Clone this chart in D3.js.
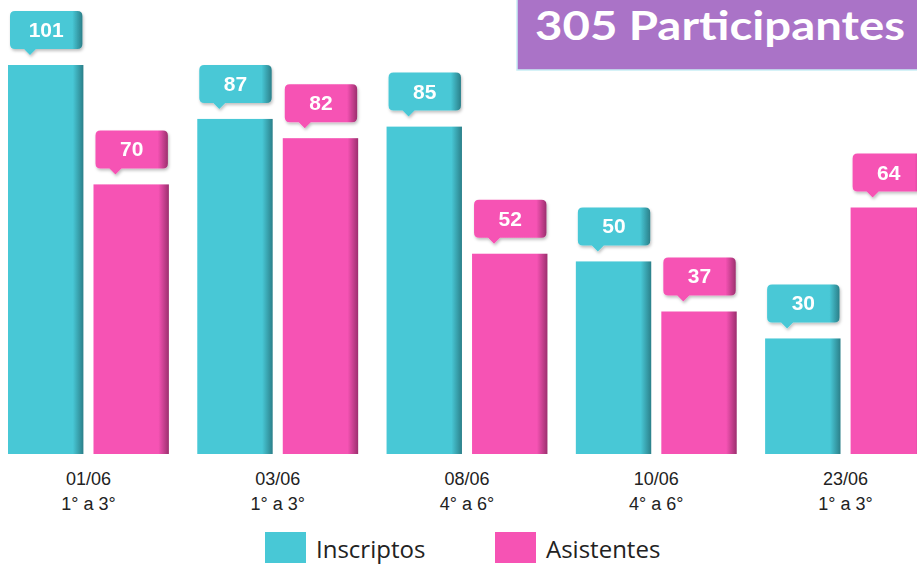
<!DOCTYPE html>
<html>
<head>
  <meta charset='utf-8'>
  <title>Participantes</title>
  <style>
    body { margin: 0; background: #fff; }
    svg { display: block; }
  </style>
  <script src='https://cdn.jsdelivr.net/npm/d3@7'></script>
</head>
<body>
  <svg id='chart' width='917' height='564'></svg>
  <script>
    // data
    const dates = ['01/06', '03/06', '08/06', '10/06', '23/06'];
    const grades = ['1° a 3°', '1° a 3°', '4° a 6°', '4° a 6°', '1° a 3°'];
    const series = ['Inscriptos', 'Asistentes'];
    const inscriptos = [101, 87, 85, 50, 30];
    const asistentes = [70, 82, 52, 37, 64];
    const totalLabel = '305 Participantes';

    const colors = { Inscriptos: '#48c8d6', Asistentes: '#f653b4' };
    const shades = { Inscriptos: '#2b7f89', Asistentes: '#9c2f6e' };

    const rows = dates.map((d, i) => ({
      date: d, grade: grades[i],
      values: [
        { key: 'Inscriptos', value: inscriptos[i] },
        { key: 'Asistentes', value: asistentes[i] }
      ]
    }));

    const svg = d3.select('#chart');
    const baseY = 454;

    const x0 = d3.scaleBand().domain(dates).range([8, 926]).paddingInner(0.15).paddingOuter(0);
    const x1 = d3.scaleBand().domain(series).range([0, x0.bandwidth()]).paddingInner(0.118);
    const y = d3.scaleLinear().domain([0, 101]).range([baseY, 65]);

    // gradients give the bars their shaded right edge
    const defs = svg.append('defs');
    series.forEach(s => {
      const g = defs.append('linearGradient')
        .attr('id', 'grad-' + s).attr('x1', '0').attr('x2', '1').attr('y1', '0').attr('y2', '0');
      g.append('stop').attr('offset', '0%').attr('stop-color', colors[s]);
      g.append('stop').attr('offset', '86%').attr('stop-color', colors[s]);
      g.append('stop').attr('offset', '100%').attr('stop-color', shades[s]);
    });
    const f = defs.append('filter').attr('id', 'shadow')
      .attr('x', '-20%').attr('y', '-20%').attr('width', '140%').attr('height', '150%');
    f.append('feDropShadow').attr('dx', 1).attr('dy', 2).attr('stdDeviation', 1.5)
      .attr('flood-color', '#000').attr('flood-opacity', 0.25);

    const groups = svg.append('g').selectAll('g')
      .data(rows).join('g')
        .attr('transform', d => `translate(${x0(d.date)},0)`);

    groups.selectAll('rect.bar')
      .data(d => d.values).join('rect')
        .attr('class', 'bar')
        .attr('x', d => x1(d.key))
        .attr('y', d => y(d.value))
        .attr('width', x1.bandwidth())
        .attr('height', d => baseY - y(d.value))
        .attr('fill', d => `url(#grad-${d.key})`);

    // value callouts
    const boxH = 38, gap = 16;
    const callouts = groups.selectAll('g.callout')
      .data(d => d.values).join('g')
        .attr('class', 'callout')
        .attr('transform', d => `translate(${x1(d.key) + 2},${y(d.value) - gap - boxH})`)
        .attr('filter', 'url(#shadow)');
    callouts.append('path')
      .attr('d', () => {
        const w = x1.bandwidth() - 3, h = boxH, r = 5, px = 20;
        return `M${r},0 H${w - r} Q${w},0 ${w},${r} V${h - r} Q${w},${h} ${w - r},${h}` +
          ` H${px + 6} L${px},${h + 6} L${px - 6},${h} H${r} Q0,${h} 0,${h - r} V${r} Q0,0 ${r},0 Z`;
      })
      .attr('fill', d => `url(#grad-${d.key})`);
    callouts.append('text')
      .attr('x', (x1.bandwidth() - 3) / 2)
      .attr('y', boxH / 2 + 7)
      .attr('text-anchor', 'middle')
      .attr('fill', '#fff')
      .attr('font-family', 'Liberation Sans, Arial, sans-serif')
      .attr('font-weight', 'bold')
      .attr('font-size', 21)
      .text(d => d.value);

    // category labels
    const labels = svg.append('g').selectAll('text')
      .data(rows).join('text')
        .attr('x', d => x0(d.date) + x0.bandwidth() / 2)
        .attr('y', 485)
        .attr('text-anchor', 'middle')
        .attr('fill', '#222')
        .attr('font-family', 'Liberation Sans, Arial, sans-serif')
        .attr('font-size', 18);
    labels.append('tspan').text(d => d.date);
    labels.append('tspan')
      .attr('x', d => x0(d.date) + x0.bandwidth() / 2)
      .attr('dy', 25)
      .text(d => d.grade);

    // legend
    const legendX = [265, 495];
    const legend = svg.append('g').selectAll('g')
      .data(series).join('g')
        .attr('transform', (d, i) => `translate(${legendX[i]},532)`);
    legend.append('rect')
      .attr('width', 41).attr('height', 31)
      .attr('fill', d => colors[d]);
    legend.append('text')
      .attr('x', 51).attr('y', 26)
      .attr('fill', '#222')
      .attr('font-family', 'Open Sans, DejaVu Sans, sans-serif')
      .attr('font-size', 24)
      .text(d => d);

    // title box
    const title = svg.append('g').attr('transform', 'translate(517,0)');
    title.append('rect')
      .attr('x', 0).attr('y', -2)
      .attr('width', 402).attr('height', 72)
      .attr('fill', '#aa73c7')
      .attr('stroke', '#c8eef5').attr('stroke-width', 1.5);
    title.append('text')
      .attr('x', 18).attr('y', 40)
      .attr('fill', '#fff')
      .attr('font-family', 'Lato, Open Sans, sans-serif')
      .attr('font-weight', 'bold')
      .attr('font-size', 40)
      .attr('textLength', 370)
      .attr('lengthAdjust', 'spacingAndGlyphs')
      .text(totalLabel);
  </script>
</body>
</html>
